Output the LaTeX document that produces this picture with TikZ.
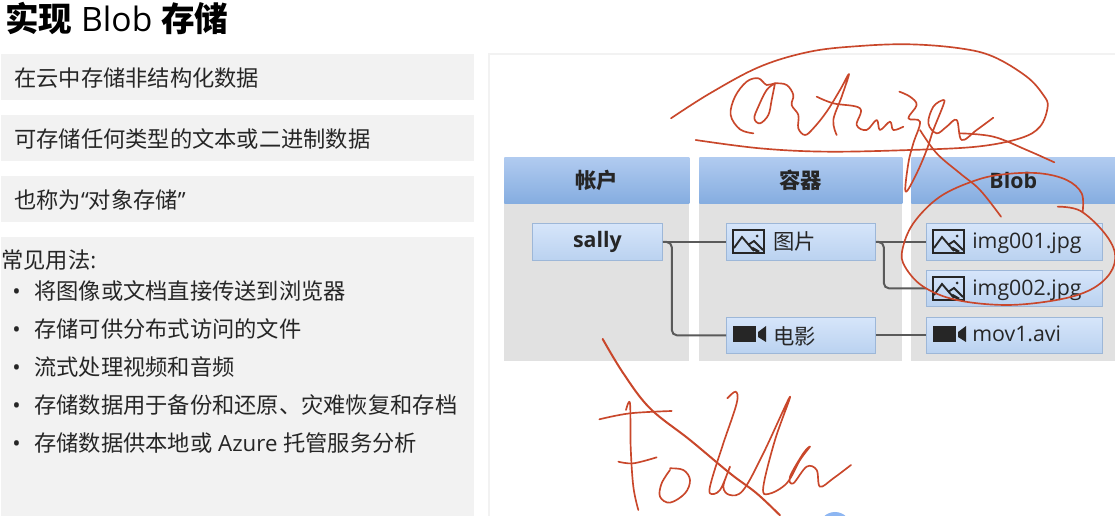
\documentclass[tikz,border=0pt]{standalone}
\usepackage{fontspec}
\setmainfont{Open Sans}
\newfontfamily\cjk{Noto Sans CJK SC}
\usepackage{xcolor}
\definecolor{inkred}{HTML}{C9472B}
\definecolor{panelgray}{HTML}{F2F2F2}
\definecolor{bodygray}{HTML}{E1E1E1}
\definecolor{textgray}{HTML}{262626}
\definecolor{linegray}{HTML}{5A5A5A}
\definecolor{headtop}{HTML}{B1CBF0}
\definecolor{headbot}{HTML}{85ADE0}
\definecolor{boxtop}{HTML}{D6E5FA}
\definecolor{boxbot}{HTML}{BAD2F0}
\definecolor{boxline}{HTML}{9DB7D8}
\definecolor{icondark}{HTML}{262626}
\definecolor{spotblue}{HTML}{8DB6F2}
\tikzset{
	pxbox/.style 2 args={anchor=north west, inner sep=0, minimum width=#1*0.75pt, minimum height=#2*0.75pt},
	panel/.style 2 args={pxbox={#1}{#2}, fill=panelgray},
	colbody/.style 2 args={pxbox={#1}{#2}, fill=bodygray},
	colhead/.style 2 args={pxbox={#1}{#2}, top color=headtop, bottom color=headbot, text=textgray, font=\fontsize{16}{16}\selectfont\bfseries},
	itembox/.style 2 args={pxbox={#1}{#2}, top color=boxtop, bottom color=boxbot, draw=boxline, line width=0.6pt, text=textgray, font=\fontsize{16}{16}\selectfont},
	maintext/.style={anchor=base west, inner sep=0, text=textgray, font=\fontsize{16.7}{17}\selectfont},
	boxtext/.style={anchor=base west, inner sep=0, text=textgray, font=\fontsize{16}{16}\selectfont},
	link/.style={draw=linegray, line width=1.5pt},
	ink/.style={draw=inkred, line width=1.25pt, line cap=round, line join=round},
	imgicon/.pic={
		\draw[icondark, line width=1.6pt] (0,0) rectangle (31,23);
		\draw[icondark, line width=1.4pt] (1,18) -- (9,7) -- (21,21);
		\draw[icondark, line width=1.4pt] (15,15) -- (21,11) -- (30,20);
		\draw[icondark, line width=2pt] (19,18) -- (26,22);
		\fill[icondark] (24,6) circle[radius=1.5];
	},
	vidicon/.pic={
		\fill[icondark] (0,0) rectangle (23,16);
		\fill[icondark] (25,6) -- (33,0) -- (33,16) -- (25,11) -- cycle;
	},
}
\begin{document}
\begin{tikzpicture}[x=0.75pt, y=-0.75pt]
	\useasboundingbox (0,0) rectangle (1115,516);
	\clip (0,0) rectangle (1115,516);
	\fill[white] (0,0) rectangle (1115,516);
	% heading
	\node[anchor=base west, inner sep=0, text=black, font=\fontsize{25.2}{26}\selectfont] (title) at (5,32) {{\cjk\bfseries 实现} Blob {\cjk\bfseries 存储}};
	% left column
	\node[panel={473}{46}] (panelA) at (1,54) {};
	\node[panel={473}{46}] (panelB) at (1,115) {};
	\node[panel={473}{46}] (panelC) at (1,176) {};
	\node[panel={473}{279}] (panelD) at (1,237) {};
	\node[maintext] (textA) at (14,87) {\cjk 在云中存储非结构化数据};
	\node[maintext] (textB) at (14,148) {\cjk 可存储任何类型的文本或二进制数据};
	\node[maintext] (textC) at (14,209) {{\cjk 也称为}“{\cjk 对象存储}”};
	\node[maintext] (usage) at (1,269) {{\cjk 常见用法}:};
	\node[maintext] (dotA) at (12,300) {•};
	\node[maintext] (dotB) at (12,338) {•};
	\node[maintext] (dotC) at (12,376) {•};
	\node[maintext] (dotD) at (12,414) {•};
	\node[maintext] (dotE) at (12,452) {•};
	\node[maintext] (useA) at (34,300) {\cjk 将图像或文档直接传送到浏览器};
	\node[maintext] (useB) at (34,338) {\cjk 存储可供分布式访问的文件};
	\node[maintext] (useC) at (34,376) {\cjk 流式处理视频和音频};
	\node[maintext] (useD) at (34,414) {\cjk 存储数据用于备份和还原、灾难恢复和存档};
	\node[maintext] (useE) at (34,452) {{\cjk 存储数据供本地或} Azure {\cjk 托管服务分析}};
	% right panel edge
	\draw[draw=panelgray, line width=1.5pt] (489,516) -- (489,54) -- (1115,54);
	% columns
	\node[colbody={185}{158}] (bodyA) at (504,203) {};
	\node[colbody={203}{158}] (bodyB) at (699,203) {};
	\node[colbody={204}{158}] (bodyC) at (911,203) {};
	\node[colhead={185}{46}] (headA) at (504,157) {\cjk 帐户};
	\node[colhead={203}{46}] (headB) at (699,157) {\cjk 容器};
	\node[colhead={204}{46}] (headC) at (911,157) {Blob};
	% items
	\node[itembox={130}{37}] (sally) at (532,223) {\bfseries sally};
	\node[itembox={149}{37}] (pics) at (726,223) {};
	\node[itembox={149}{36}] (movies) at (726,317) {};
	\node[itembox={176}{37}] (imgA) at (926,223) {};
	\node[itembox={176}{36}] (imgB) at (926,270) {};
	\node[itembox={176}{36}] (mov) at (926,317) {};
	% connectors
	\draw[link] (sally.east) -- (pics.west);
	\draw[link, rounded corners=4] (sally.east) -- ++(9,0) |- (movies.west);
	\draw[link] (pics.east) -- (imgA.west);
	\draw[link, rounded corners=4] (pics.east) -- ++(8,0) |- (imgB.west);
	\draw[link] (movies.east) -- (mov.west);
	% icons and labels
	\pic at (733,230) {imgicon};
	\pic at (933,230) {imgicon};
	\pic at (933,277) {imgicon};
	\pic at (733,326) {vidicon};
	\pic at (933,326) {vidicon};
	\node[boxtext] (picsText) at (773,250) {\cjk 图片};
	\node[boxtext] (moviesText) at (773,345) {\cjk 电影};
	\node[boxtext] (imgAText) at (972,249) {img001.jpg};
	\node[boxtext] (imgBText) at (972,296) {img002.jpg};
	\node[boxtext] (movText) at (972,342) {mov1.avi};
	% blue spot at the lower edge
	\fill[spotblue] (835,528) circle[radius=16];
	% handwriting over the top
	\begin{scope}[shift={(660,40)}, scale=1/3]
		\draw[ink] plot[smooth, tension=0.6] coordinates {(33,235) (150,160) (300,80) (450,35) (600,18) (750,13) (900,25) (1000,50) (1100,110) (1150,165) (1163,200) (1140,260) (1080,295) (950,320) (750,330) (500,335) (300,325) (107,300)};
		\draw[ink] plot[smooth, tension=0.6] coordinates {(280,280) (240,268) (212,225) (225,170) (260,125) (295,115) (320,135) (345,130) (380,135) (400,165) (395,195) (415,225) (415,265) (435,285) (460,265) (500,215) (540,150) (567,102) (545,170) (520,240) (530,285)};
		\draw[ink] plot[smooth, tension=0.6] coordinates {(345,130) (320,150) (295,200) (283,235) (300,250) (325,225) (335,180) (345,130)};
		\draw[ink] plot[smooth, tension=0.6] coordinates {(470,170) (520,190) (600,205) (590,255) (620,270) (650,240) (660,270) (690,245) (700,270) (730,260)};
		\draw[ink] plot[smooth, tension=0.6] coordinates {(718,155) (750,170) (770,195) (745,235) (780,245) (760,310) (745,370) (737,455) (770,400) (800,330) (820,270) (850,195) (850,180) (820,200) (805,250) (830,280) (860,260) (890,240) (905,300) (950,270) (1000,233)};
		\draw[ink] plot[smooth, tension=0.6] coordinates {(780,270) (830,340) (900,400) (960,450) (1023,530)};
		\draw[ink] plot[smooth, tension=0.6] coordinates {(900,280) (1000,290) (1100,330) (1183,367)};
	\end{scope}
	\begin{scope}[shift={(890,160)}, scale=1/3]
		\draw[ink] plot[smooth, tension=0.6] coordinates {(503,140) (570,152) (640,215) (675,280) (660,340) (600,390) (500,420) (350,435) (200,420) (100,380) (45,320) (37,270) (70,190) (150,110) (260,60) (350,42) (450,40) (530,60) (575,100) (578,155)};
	\end{scope}
	\begin{scope}[shift={(590,330)}, scale=1/3]
		\draw[ink, line width=1.5pt] plot[smooth, tension=0.6] coordinates {(38,27) (100,130) (180,235) (300,330) (420,430) (500,490) (570,556)};
		\draw[ink] plot[smooth, tension=0.6] coordinates {(28,268) (120,250) (245,243)};
		\draw[ink] plot[smooth, tension=0.6] coordinates {(108,240) (120,220) (122,350) (130,470) (145,540)};
		\draw[ink] plot[smooth, tension=0.6] coordinates {(85,395) (130,400) (200,382)};
		\draw[ink] plot[smooth, tension=0.6] coordinates {(240,420) (215,460) (210,500) (240,518) (285,490) (300,450) (280,420) (240,415)};
		\draw[ink] plot[smooth, tension=0.6] coordinates {(412,205) (437,185) (440,220) (400,340) (365,450) (360,490) (390,480) (420,410) (400,470) (420,495) (460,480) (520,370) (600,200) (555,330) (520,470) (535,492) (590,460) (630,390) (660,350) (640,370) (600,440) (610,460) (650,410) (680,420) (690,470) (730,445) (783,405)};
	\end{scope}
\end{tikzpicture}
\end{document}
